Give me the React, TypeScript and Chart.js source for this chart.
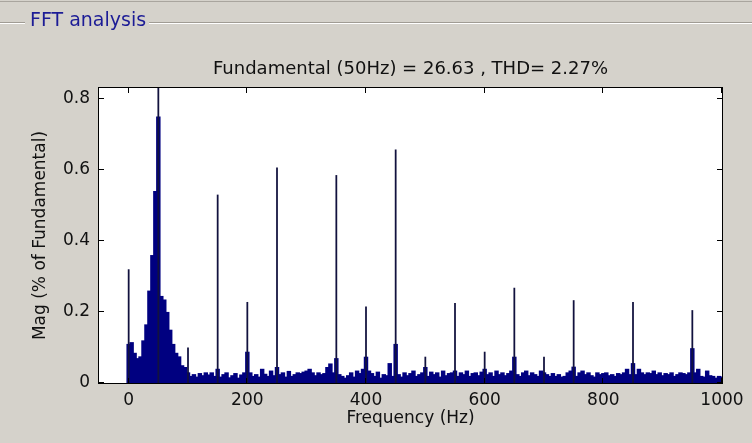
import { useEffect, useRef } from "react";
import { Chart, registerables } from "chart.js";

Chart.register(...registerables);

// ---------- data ----------
const BIN_HZ = 5;
// magnitude of each 5 Hz bin, 0 .. 1000 Hz (fraction of fundamental)
const spectrum = [
  0.11, 0.115, 0.085, 0.07, 0.075, 0.12, 0.165, 0.26, 0.36, 0.54, // 0-45
  0.75, 0.245, 0.235, 0.2, 0.15, 0.11, 0.085, 0.075, 0.05, 0.045, // 50-95
  0.03, 0.02, 0.025, 0.018, 0.028, 0.022, 0.03, 0.024, 0.03, 0.02, // 100-145
  0.04, 0.018, 0.025, 0.03, 0.016, 0.022, 0.028, 0.015, 0.024, 0.03, // 150-195
  0.088, 0.03, 0.02, 0.025, 0.018, 0.04, 0.026, 0.02, 0.035, 0.022, // 200-245
  0.045, 0.025, 0.03, 0.018, 0.034, 0.02, 0.025, 0.03, 0.028, 0.032, // 250-295
  0.035, 0.04, 0.03, 0.022, 0.03, 0.025, 0.028, 0.045, 0.055, 0.03, // 300-345
  0.07, 0.025, 0.02, 0.015, 0.022, 0.03, 0.018, 0.035, 0.028, 0.04, // 350-395
  0.074, 0.035, 0.028, 0.02, 0.032, 0.015, 0.025, 0.022, 0.056, 0.02, // 400-445
  0.11, 0.025, 0.018, 0.03, 0.022, 0.028, 0.035, 0.02, 0.025, 0.03, // 450-495
  0.045, 0.02, 0.032, 0.025, 0.03, 0.018, 0.035, 0.022, 0.028, 0.03, // 500-545
  0.035, 0.02, 0.03, 0.025, 0.035, 0.02, 0.028, 0.03, 0.022, 0.032, // 550-595
  0.04, 0.025, 0.03, 0.02, 0.035, 0.025, 0.03, 0.022, 0.028, 0.035, // 600-645
  0.074, 0.025, 0.02, 0.03, 0.035, 0.022, 0.03, 0.025, 0.02, 0.035, // 650-695
  0.03, 0.025, 0.02, 0.028, 0.02, 0.025, 0.018, 0.02, 0.03, 0.035, // 700-745
  0.046, 0.02, 0.03, 0.035, 0.025, 0.03, 0.022, 0.018, 0.03, 0.025, // 750-795
  0.028, 0.03, 0.022, 0.025, 0.02, 0.028, 0.025, 0.03, 0.04, 0.025, // 800-845
  0.056, 0.025, 0.04, 0.03, 0.025, 0.03, 0.028, 0.035, 0.025, 0.03, // 850-895
  0.022, 0.028, 0.025, 0.03, 0.02, 0.025, 0.03, 0.028, 0.025, 0.03, // 900-945
  0.098, 0.03, 0.04, 0.02, 0.018, 0.035, 0.022, 0.02, 0.015, 0.02, // 950-995
  0.018, // 1000
];
// narrow harmonic lines
const harmonicFreqs = [0, 50, 100, 150, 200, 250, 350, 400, 450, 500, 550, 600, 650, 700, 750, 850, 950];
const harmonicMags = [0.32, 1.0, 0.1, 0.53, 0.228, 0.606, 0.585, 0.215, 0.657, 0.074, 0.225, 0.088, 0.268, 0.074, 0.233, 0.228, 0.205];

const xTicks = [0, 200, 400, 600, 800, 1000];
const xTickLabels = ["0", "200", "400", "600", "800", "1000"];
const yTicks = [0, 0.2, 0.4, 0.6, 0.8];
const yTickLabels = ["0", "0.2", "0.4", "0.6", "0.8"];

const panelTitle = "FFT analysis";
const chartTitle = "Fundamental (50Hz) = 26.63 , THD= 2.27%";
const xLabel = "Frequency (Hz)";
const yLabel = "Mag (% of Fundamental)";

// ---------- styles ----------
const BG = "#d5d2cb";
const BAR = "#000080";
const SPIKE = "#12123e";
const FONT = "DejaVu Sans";

export default function App() {
  const ref = useRef<HTMLCanvasElement | null>(null);

  useEffect(() => {
    const canvas = ref.current;
    if (!canvas) return;

    const framePlugin = {
      id: "matlabFrame",
      beforeDraw(chart: any) {
        const { ctx, chartArea: a, width, height } = chart;
        ctx.save();
        ctx.fillStyle = BG;
        ctx.fillRect(0, 0, width, height);
        // top separator line
        ctx.fillStyle = "#a9a59e";
        ctx.fillRect(0, 1, width, 1);
        // group box
        ctx.font = `19px "${FONT}"`;
        const tw = ctx.measureText(panelTitle).width;
        ctx.fillStyle = "#a09c94";
        ctx.fillRect(0, 22, 25, 1);
        ctx.fillRect(30 + tw + 3, 22, width - (30 + tw + 3), 1);
        ctx.fillStyle = "#ffffff";
        ctx.fillRect(0, 23, 25, 1);
        ctx.fillRect(30 + tw + 3, 23, width - (30 + tw + 3), 1);
        ctx.fillStyle = "#1c1c96";
        ctx.textBaseline = "middle";
        ctx.textAlign = "left";
        ctx.fillText(panelTitle, 30, 21);
        // plot background
        ctx.fillStyle = "#ffffff";
        ctx.fillRect(a.left, a.top, a.right - a.left, a.bottom - a.top);
        // title
        ctx.fillStyle = "#111111";
        ctx.font = `18px "${FONT}"`;
        ctx.textAlign = "center";
        ctx.fillText(chartTitle, (a.left + a.right) / 2, 69);
        ctx.restore();
      },
      afterDraw(chart: any) {
        const { ctx, chartArea: a } = chart;
        const xs = chart.scales.x;
        const ys = chart.scales.y;
        ctx.save();
        ctx.strokeStyle = "#000000";
        ctx.lineWidth = 1;
        ctx.strokeRect(a.left - 0.5, a.top - 0.5, a.right - a.left + 1, a.bottom - a.top + 1);
        const TL = 5;
        ctx.beginPath();
        xTicks.forEach((v) => {
          const px = Math.round(xs.getPixelForValue(v)) - 0.5;
          ctx.moveTo(px, a.bottom);
          ctx.lineTo(px, a.bottom - TL);
          ctx.moveTo(px, a.top);
          ctx.lineTo(px, a.top + TL);
        });
        yTicks.forEach((v) => {
          const py = Math.round(ys.getPixelForValue(v)) - 0.5;
          ctx.moveTo(a.left, py);
          ctx.lineTo(a.left + TL, py);
          ctx.moveTo(a.right, py);
          ctx.lineTo(a.right - TL, py);
        });
        ctx.stroke();
        // axis titles
        ctx.fillStyle = "#111111";
        ctx.font = `17px "${FONT}"`;
        ctx.textAlign = "center";
        ctx.textBaseline = "middle";
        ctx.fillText(xLabel, (a.left + a.right) / 2, 419);
        ctx.translate(41, (a.top + a.bottom) / 2);
        ctx.rotate(-Math.PI / 2);
        ctx.fillText(yLabel, 0, 0);
        ctx.restore();
      },
    };

    const chart = new Chart(canvas, {
      type: "bar",
      data: {
        datasets: [
          {
            label: "Harmonics",
            data: harmonicFreqs.map((f, i) => ({ x: f, y: harmonicMags[i] })),
            backgroundColor: SPIKE,
            borderWidth: 0,
            barPercentage: 0.6,
            categoryPercentage: 1,
            grouped: false,
            order: 0,
          } as any,
          {
            label: "Spectrum",
            data: spectrum.map((m, i) => ({ x: i * BIN_HZ, y: m })),
            backgroundColor: BAR,
            borderWidth: 0,
            barPercentage: 1.5,
            categoryPercentage: 1,
            inflateAmount: 0,
            grouped: false,
            order: 1,
          } as any,
        ],
      },
      options: {
        responsive: false,
        animation: false,
        layout: { padding: { left: 0, top: 88, right: 30, bottom: 0 } },
        plugins: {
          legend: { display: false },
          title: { display: false },
          tooltip: { enabled: false },
        },
        scales: {
          x: {
            type: "linear",
            min: -50,
            max: 1000,
            offset: false,
            grid: { display: false, drawTicks: false },
            border: { display: false },
            afterBuildTicks: (s: any) => {
              s.ticks = xTicks.map((v) => ({ value: v }));
            },
            afterFit: (s: any) => {
              s.height = 60;
            },
            ticks: {
              padding: 7,
              maxRotation: 0,
              autoSkip: false,
              color: "#111111",
              font: { family: FONT, size: 17 },
              callback: (v: any) => {
                const i = xTicks.indexOf(Number(v));
                return i >= 0 ? xTickLabels[i] : "";
              },
            },
          },
          y: {
            type: "linear",
            min: 0,
            max: 0.83,
            grid: { display: false, drawTicks: false },
            border: { display: false },
            afterBuildTicks: (s: any) => {
              s.ticks = yTicks.map((v) => ({ value: v }));
            },
            afterFit: (s: any) => {
              s.width = 99;
            },
            ticks: {
              padding: 9,
              autoSkip: false,
              color: "#111111",
              font: { family: FONT, size: 17 },
              callback: (v: any) => {
                const i = yTicks.findIndex((t) => Math.abs(t - Number(v)) < 1e-9);
                return i >= 0 ? yTickLabels[i] : "";
              },
            },
          },
        },
      },
      plugins: [framePlugin],
    });

    return () => chart.destroy();
  }, []);

  return (
    <div style={{ position: "absolute", left: 0, top: 0, width: 752, height: 443, background: BG }}>
      <canvas ref={ref} width={752} height={443} style={{ display: "block", width: 752, height: 443 }} />
    </div>
  );
}
